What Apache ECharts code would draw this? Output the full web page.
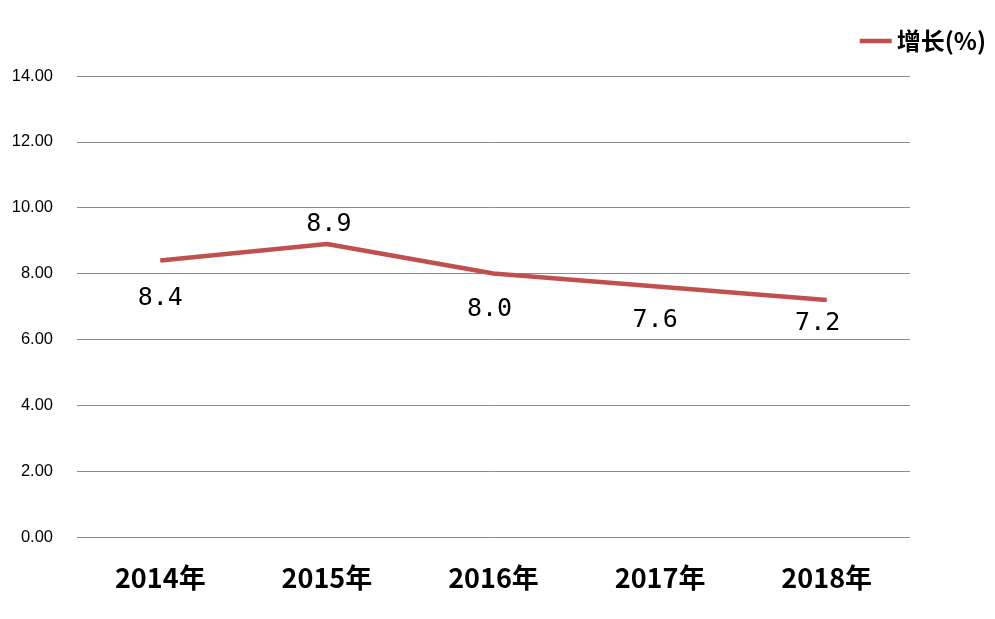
<!DOCTYPE html>
<html><head><meta charset="utf-8">
<script src="https://cdn.jsdelivr.net/npm/echarts@6/dist/echarts.min.js"></script>
<style>html,body{margin:0;padding:0;background:#fff}#c{width:995px;height:619px}</style>
</head><body><div id="c"></div>
<script>
const categories = ['2014年','2015年','2016年','2017年','2018年'];
const growth = [8.4, 8.9, 8.0, 7.6, 7.2];
const seriesName = '增长(%)';
const yTicks = [0, 2, 4, 6, 8, 10, 12, 14];

// label placement per point (styling only)
const labelOffsets = [[0, 38], [2, -19], [-4, 36], [-5, 34], [-9, 24]];

const chart = echarts.init(document.getElementById('c'));
chart.setOption({
  backgroundColor: '#fff',
  animation: false,
  grid: {left: 77, right: 85, top: 76, bottom: 82},
  legend: {
    right: 4, top: 24,
    itemWidth: 32, itemHeight: 14,
    itemGap: 4,
    textStyle: {fontFamily: 'Noto Sans CJK SC', fontWeight: 'bold', fontSize: 24, color: '#000'},
    data: [{name: seriesName, icon: 'path://M0,5 L32,5 L32,9.5 L0,9.5 Z'}]
  },
  xAxis: {
    type: 'category', data: categories, boundaryGap: true,
    axisLine: {show: false}, axisTick: {show: false},
    axisLabel: {margin: 27, color: '#000', fontFamily: 'Noto Sans CJK SC', fontWeight: 'bold', fontSize: 27}
  },
  yAxis: {
    type: 'value', min: yTicks[0], max: yTicks[yTicks.length-1], interval: 2,
    axisLine: {show: false}, axisTick: {show: false},
    axisLabel: {margin: 24, color: '#000', fontFamily: 'Liberation Sans', fontSize: 16.5, formatter: v => v.toFixed(2)},
    splitLine: {lineStyle: {color: '#8c8c8c', width: 1}}
  },
  series: [{
    name: seriesName, type: 'line',
    data: growth.map((v, i) => ({
      value: v,
      label: {position: 'inside', offset: labelOffsets[i]}
    })),
    symbol: 'circle', symbolSize: 1, showSymbol: true,
    lineStyle: {color: '#C0504D', width: 4.5},
    itemStyle: {color: '#C0504D'},
    label: {show: true, color: '#000', fontFamily: 'DejaVu Sans Mono', fontSize: 25, formatter: p => p.value.toFixed(1)}
  }]
});
</script></body></html>
